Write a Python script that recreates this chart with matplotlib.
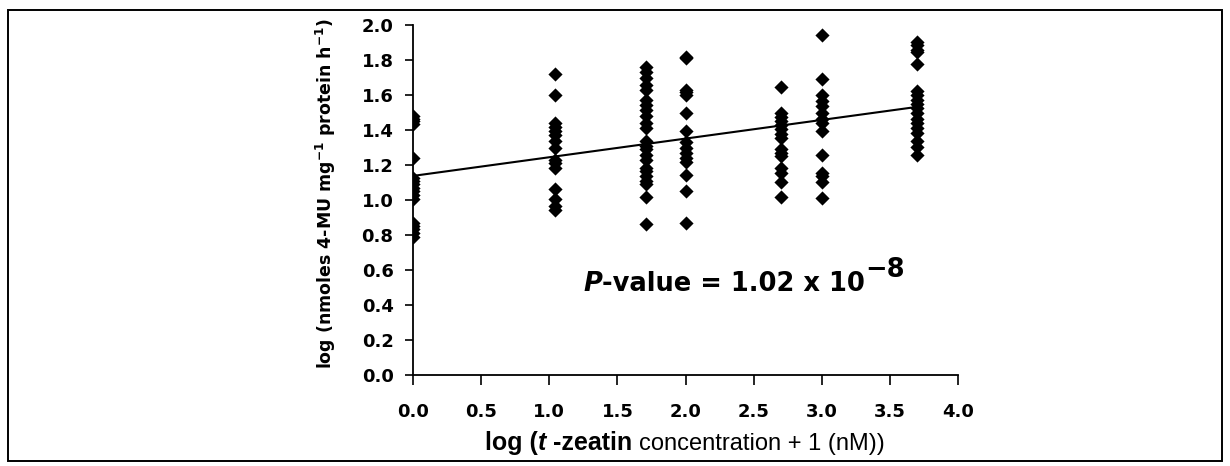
import numpy as np
import matplotlib
matplotlib.use("Agg")
import matplotlib.pyplot as plt
from matplotlib.patches import Rectangle

# ---- data ----
x_levels = [0.0, 1.04, 1.71, 2.0, 2.7, 3.0, 3.7]
y_g0 = [1.48, 1.465, 1.45, 1.435, 1.24, 1.125, 1.11, 1.09, 1.07, 1.05, 1.03, 1.005,
        0.87, 0.85, 0.835, 0.81, 0.79]
y_g1 = [1.72, 1.60, 1.44, 1.415, 1.395, 1.37, 1.34, 1.30, 1.23, 1.21, 1.185, 1.065,
        1.005, 0.965, 0.945]
y_g2 = [1.76, 1.73, 1.70, 1.66, 1.63, 1.57, 1.545, 1.515, 1.48, 1.44, 1.41, 1.335,
        1.31, 1.29, 1.26, 1.23, 1.185, 1.165, 1.135, 1.11, 1.09, 1.02, 0.865]
y_g3 = [1.82, 1.81, 1.63, 1.615, 1.60, 1.50, 1.395, 1.33, 1.30, 1.27, 1.24, 1.215,
        1.145, 1.05, 0.87]
y_g4 = [1.645, 1.50, 1.475, 1.45, 1.43, 1.405, 1.38, 1.355, 1.29, 1.27, 1.25, 1.185,
        1.155, 1.105, 1.02]
y_g5 = [1.945, 1.69, 1.60, 1.565, 1.535, 1.50, 1.465, 1.44, 1.395, 1.26, 1.155, 1.135,
        1.10, 1.01]
y_g6 = [1.905, 1.885, 1.86, 1.845, 1.775, 1.625, 1.60, 1.57, 1.55, 1.525, 1.495, 1.465,
        1.44, 1.41, 1.385, 1.335, 1.305, 1.26]
y_groups = [y_g0, y_g1, y_g2, y_g3, y_g4, y_g5, y_g6]

x_ticks = [0.0, 0.5, 1.0, 1.5, 2.0, 2.5, 3.0, 3.5, 4.0]
y_ticks = [0.0, 0.2, 0.4, 0.6, 0.8, 1.0, 1.2, 1.4, 1.6, 1.8, 2.0]

xs = np.concatenate([[xv] * len(g) for xv, g in zip(x_levels, y_groups)])
ys = np.concatenate(y_groups)

# ---- figure ----
W, H = 1230, 466
fig = plt.figure(figsize=(W / 100, H / 100), dpi=100)
fig.patch.set_facecolor("white")
fig.patches.append(Rectangle((8 / W, 5 / H), 1214 / W, 451 / H, transform=fig.transFigure,
                             fill=False, edgecolor="black", linewidth=1.4))

ax = fig.add_axes([413 / W, 1 - 375 / H, 545 / W, 350 / H])
ax.scatter(xs, ys, marker="D", s=52, color="black", linewidths=0, zorder=3)

slope, intercept = np.polyfit(xs, ys, 1)
xl = np.array([0.0, max(x_levels)])
ax.plot(xl, intercept + slope * xl, color="black", linewidth=1.5, zorder=2)

ax.set_xlim(0, 4)
ax.set_ylim(0, 2)
ax.set_xticks(x_ticks)
ax.set_yticks(y_ticks)
ax.set_xticklabels([f"{v:.1f}" for v in x_ticks])
ax.set_yticklabels([f"{v:.1f}" for v in y_ticks])
for s in ("top", "right"):
    ax.spines[s].set_visible(False)
for s in ("left", "bottom"):
    ax.spines[s].set_linewidth(1.3)
ax.tick_params(axis="x", direction="out", length=7, width=1.2, pad=13, labelsize=13)
ax.tick_params(axis="y", direction="out", length=6, width=1.2, pad=8, labelsize=13)
for lab in ax.get_xticklabels() + ax.get_yticklabels():
    lab.set_fontweight("bold")
    lab.set_family("DejaVu Sans")

ax.set_ylabel(r"log (nmoles 4-MU mg$^{\mathbf{-1}}$ protein h$^{\mathbf{-1}}$)",
              fontsize=12.5, fontweight="bold")
ax.yaxis.set_label_coords(-0.138, 0.52)

fig.canvas.draw()
renderer = fig.canvas.get_renderer()


def chain(pieces, x0, y0, center=False):
    """Place text pieces side by side in figure pixels."""
    texts = []
    x = x0
    for txt, kw, dy in pieces:
        t = fig.text(x / W, (y0 + dy) / H, txt, ha="left", va="baseline", **kw)
        bb = t.get_window_extent(renderer)
        x += bb.width
        texts.append(t)
    if center:
        shift = (x - x0) / 2
        for t in texts:
            px, py = t.get_position()
            t.set_position((px - shift / W, py))
    return texts


# x label
lab_font = "Liberation Sans"
chain([
    ("log (", dict(family=lab_font, fontsize=18, fontweight="bold"), 0),
    ("t", dict(family=lab_font, fontsize=18, fontweight="bold", style="italic"), 0),
    (" -zeatin ", dict(family=lab_font, fontsize=18, fontweight="bold"), 0),
    ("concentration + 1 (nM))", dict(family=lab_font, fontsize=17), 0),
], 685, H - 450, center=True)

# P-value annotation
pv = dict(family="DejaVu Sans", fontsize=18.5, fontweight="bold")
chain([
    ("P", dict(pv, style="italic"), 0),
    ("-value = 1.02 x 10", pv, 0),
    ("\u22128", pv, 14),
], 583, H - 291)

fig.savefig("out.png", dpi=100, facecolor="white")
